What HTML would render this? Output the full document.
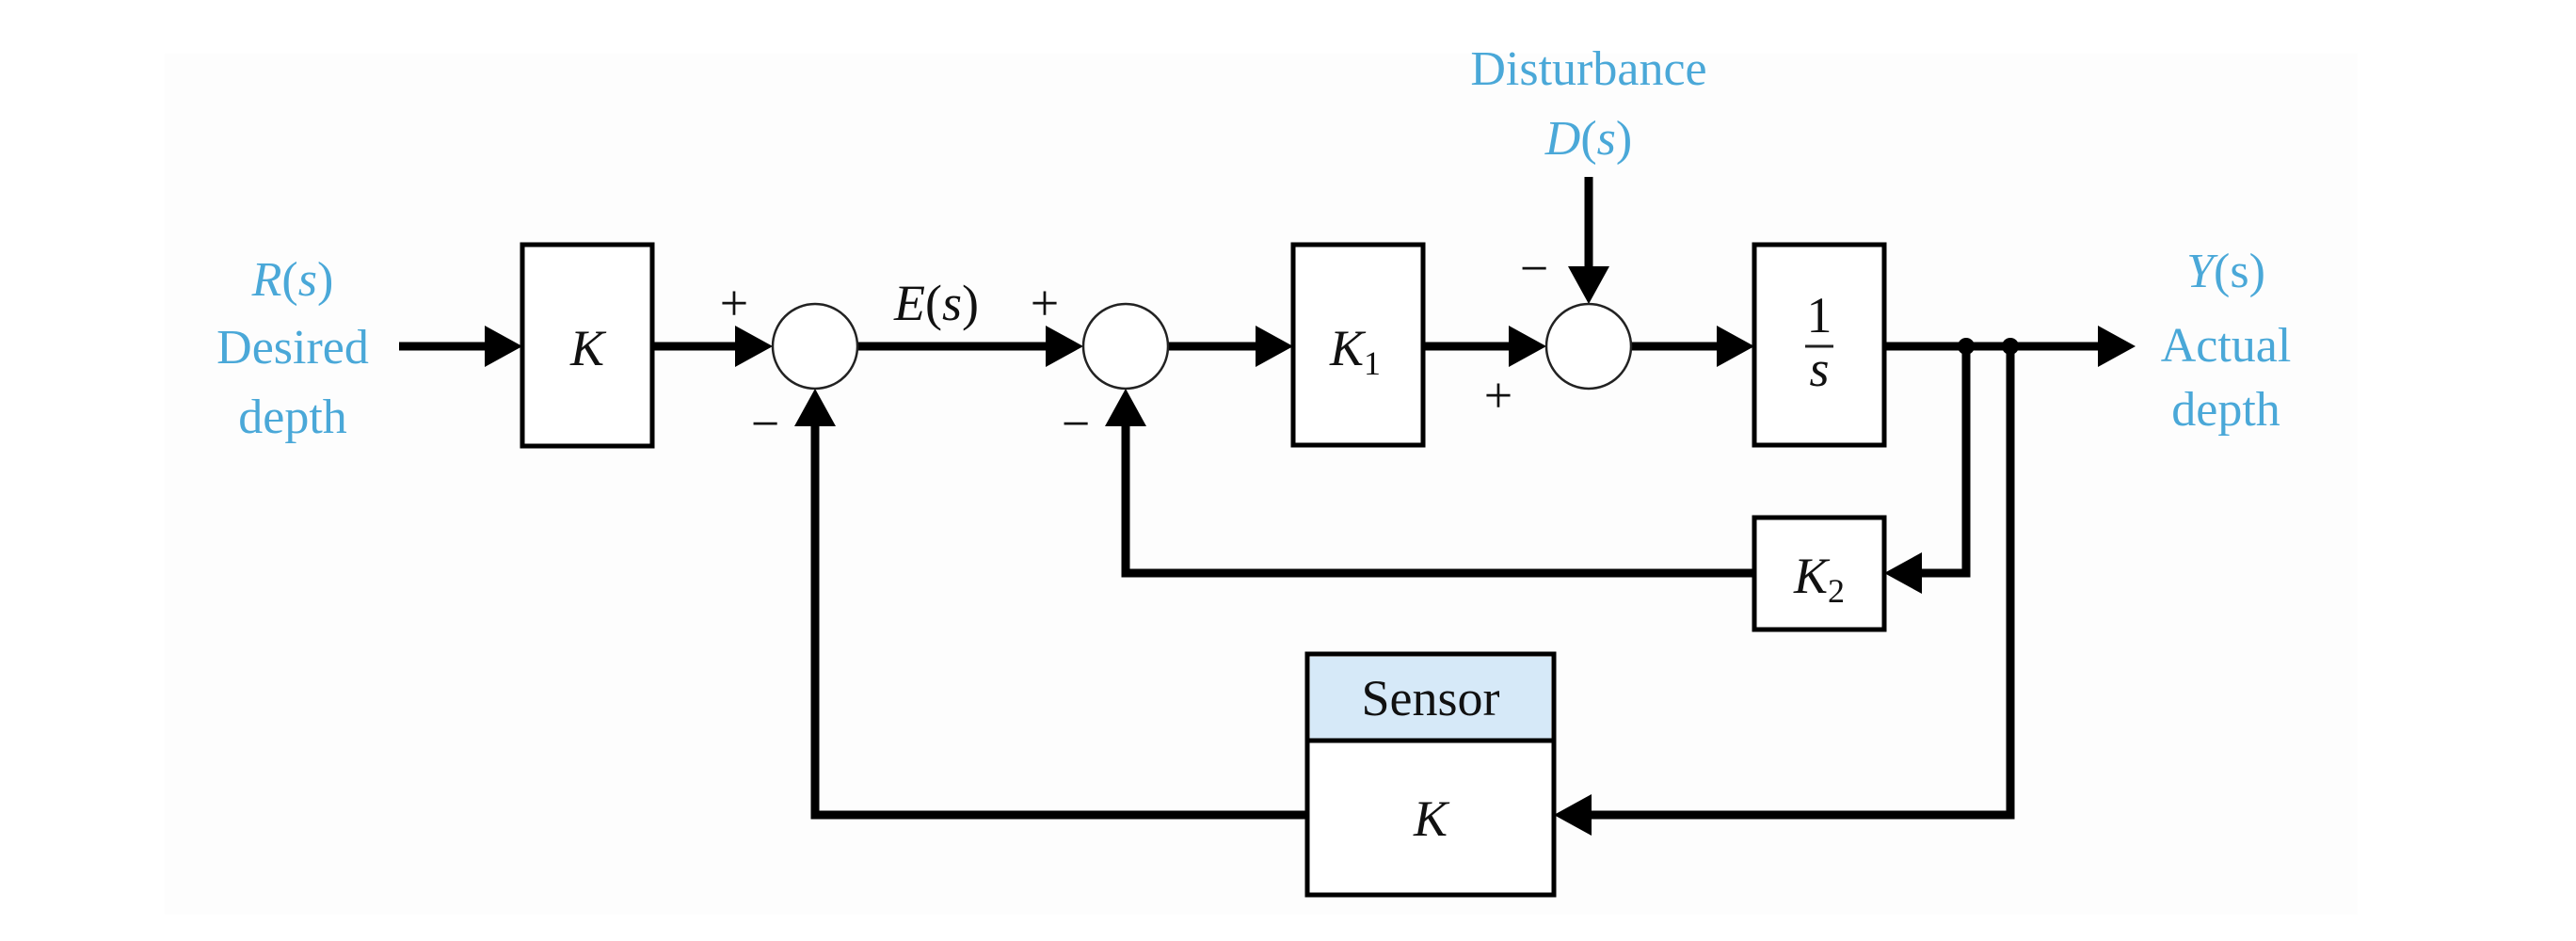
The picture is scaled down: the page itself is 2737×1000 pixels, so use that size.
<!DOCTYPE html>
<html><head><meta charset="utf-8"><style>
html,body{margin:0;padding:0;background:#fff;}
svg{display:block;}
text{font-family:"Liberation Serif",serif;}
.b{fill:#4aa8d8;font-size:52px;text-anchor:middle;}
.k{fill:#111;font-size:54px;text-anchor:middle;}
.i{font-style:italic;}
</style></head><body>
<svg width="2737" height="1000" viewBox="0 0 2737 1000" xmlns="http://www.w3.org/2000/svg">
<rect x="175" y="57" width="2330" height="915" fill="#fdfdfd"/>
<g stroke="#000" stroke-width="9" fill="none">
<line x1="424" y1="368" x2="520" y2="368"/>
<line x1="693" y1="368" x2="790" y2="368"/>
<line x1="911" y1="368" x2="1120" y2="368"/>
<line x1="1241" y1="368" x2="1345" y2="368"/>
<line x1="1512" y1="368" x2="1612" y2="368"/>
<line x1="1688" y1="188" x2="1688" y2="295"/>
<line x1="1733" y1="368" x2="1835" y2="368"/>
<line x1="2002" y1="368" x2="2235" y2="368"/>
<polyline points="2089,368 2089,609 2035,609"/>
<polyline points="1864,609 1196,609 1196,445"/>
<polyline points="2136,368 2136,866 1685,866"/>
<polyline points="1389,866 866,866 866,445"/>
</g>
<g fill="#000">
<polygon points="515,346 555,368 515,390"/>
<polygon points="781,346 821,368 781,390"/>
<polygon points="1111,346 1151,368 1111,390"/>
<polygon points="1334,346 1374,368 1334,390"/>
<polygon points="1603,346 1643,368 1603,390"/>
<polygon points="1666,283 1688,323 1710,283"/>
<polygon points="1824,346 1864,368 1824,390"/>
<polygon points="2229,346 2269,368 2229,390"/>
<polygon points="2042,587 2002,609 2042,631"/>
<polygon points="1174,453 1196,413 1218,453"/>
<polygon points="1691,844 1651,866 1691,888"/>
<polygon points="844,453 866,413 888,453"/>
<circle cx="2089" cy="368" r="9"/>
<circle cx="2136" cy="368" r="9"/>
</g>
<g stroke="#000" stroke-width="5" fill="#fff">
<rect x="555" y="260" width="138" height="214"/>
<rect x="1374" y="260" width="138" height="213"/>
<rect x="1864" y="260" width="138" height="213"/>
<rect x="1864" y="550" width="138" height="119"/>
<rect x="1389" y="695" width="262" height="256"/>
</g>
<rect x="1392" y="698" width="256" height="87" fill="#d6e9f8"/>
<line x1="1389" y1="787" x2="1651" y2="787" stroke="#000" stroke-width="5"/>
<g stroke="#222" stroke-width="2.5" fill="#fff">
<circle cx="866" cy="368" r="45"/>
<circle cx="1196" cy="368" r="45"/>
<circle cx="1688" cy="368" r="45"/>
</g>
<line x1="1918" y1="368" x2="1948" y2="368" stroke="#222" stroke-width="3"/>
<text class="b" x="311" y="314"><tspan class="i">R</tspan>(<tspan class="i">s</tspan>)</text>
<text class="b" x="311" y="386">Desired</text>
<text class="b" x="311" y="460">depth</text>
<text class="k i" x="624" y="388">K</text>
<text class="k" x="780" y="340" font-size="44">+</text>
<text class="k" x="813" y="468" font-size="44">−</text>
<text class="k" x="995" y="340"><tspan class="i">E</tspan>(<tspan class="i">s</tspan>)</text>
<text class="k" x="1110" y="340" font-size="44">+</text>
<text class="k" x="1143" y="468" font-size="44">−</text>
<text class="k" x="1440" y="388"><tspan class="i">K</tspan><tspan font-size="36" dy="10">1</tspan></text>
<text class="k" x="1630" y="303" font-size="44">−</text>
<text class="k" x="1592" y="438" font-size="44">+</text>
<text class="b" x="1688" y="90">Disturbance</text>
<text class="b" x="1688" y="164"><tspan class="i">D</tspan>(<tspan class="i">s</tspan>)</text>
<text class="k" x="1933" y="353" font-size="46">1</text>
<text class="k i" x="1933" y="410" font-size="46">s</text>
<text class="b" x="2365" y="305"><tspan class="i">Y</tspan>(s)</text>
<text class="b" x="2365" y="384">Actual</text>
<text class="b" x="2365" y="452">depth</text>
<text class="k" x="1933" y="630"><tspan class="i">K</tspan><tspan font-size="36" dy="10">2</tspan></text>
<text class="k" x="1520" y="760" font-size="48">Sensor</text>
<text class="k i" x="1520" y="888">K</text>
</svg>
</body></html>
